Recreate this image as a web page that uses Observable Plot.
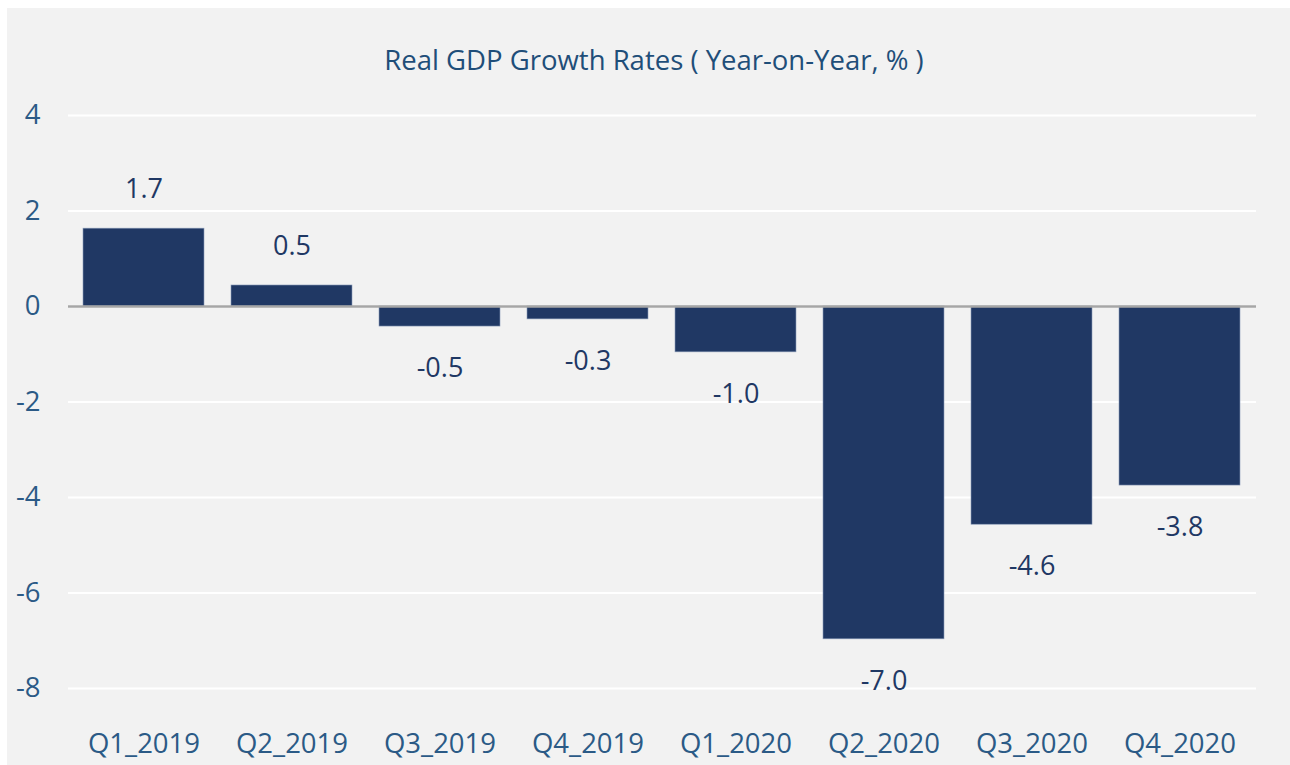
<!DOCTYPE html>
<html>
<head>
<meta charset="utf-8">
<script src="https://cdn.jsdelivr.net/npm/d3@7"></script>
<script src="https://cdn.jsdelivr.net/npm/@observablehq/plot@0.6"></script>
<style>
  html, body { margin: 0; padding: 0; background: #ffffff; width: 1290px; height: 765px; overflow: hidden; }
  #panel { position: absolute; left: 7px; top: 8px; width: 1283px; height: 757px; background: #f2f2f2; }
  #wrap { position: absolute; left: 0; top: 8px; width: 1290px; }
  #title { height: 80px; box-sizing: border-box; padding-top: 36px; padding-left: 18px; text-align: center;
           font-family: "Open Sans", sans-serif; font-size: 27.5px; line-height: 32px; color: #1f4e79; }
  svg { display: block; }
</style>
</head>
<body>
<div id="panel"></div>
<div id="wrap">
  <div id="title">Real GDP Growth Rates ( Year-on-Year, % )</div>
  <div id="chart"></div>
</div>
<script>
const quarters = ["Q1_2019","Q2_2019","Q3_2019","Q4_2019","Q1_2020","Q2_2020","Q3_2020","Q4_2020"];
const values = [1.63, 0.44, -0.42, -0.27, -0.96, -6.97, -4.57, -3.75];
const labels = ["1.7", "0.5", "-0.5", "-0.3", "-1.0", "-7.0", "-4.6", "-3.8"];
const yTicks = [4, 2, 0, -2, -4, -6, -8];

const data = quarters.map((q, i) => ({q, v: values[i], label: labels[i]}));

const chart = Plot.plot({
  width: 1290,
  height: 677,
  marginLeft: 68,
  marginRight: 34,
  marginTop: 27,
  marginBottom: 77,
  style: {background: "transparent", fontFamily: "'Open Sans', sans-serif", fontSize: "27px"},
  x: {domain: quarters, paddingInner: 0.18, paddingOuter: 0.09, label: null},
  y: {domain: [-8, 4], label: null},
  marks: [
    Plot.ruleY(yTicks, {stroke: "#ffffff", strokeWidth: 2}),
    Plot.barY(data, {x: "q", y: "v", fill: "#203864", stroke: "#8a9bb8", strokeWidth: 0.6}),
    Plot.ruleY([0], {stroke: "#a6a6a6", strokeWidth: 2.5}),
    Plot.text(data.filter(d => d.v >= 0), {x: "q", y: "v", text: "label", dy: -39, fill: "#1f3864", fontSize: 27}),
    Plot.text(data.filter(d => d.v < 0), {x: "q", y: "v", text: "label", dy: 42, fill: "#1f3864", fontSize: 27}),
    Plot.axisY({ticks: yTicks, tickSize: 0, tickPadding: 28, tickFormat: d => d < 0 ? "-" + Math.abs(d) : String(d), color: "#2b5a86", fontSize: 27.5}),
    Plot.axisX({tickSize: 0, tickPadding: 45, color: "#2b5a86", fontSize: 27.5})
  ]
});
document.getElementById("chart").appendChild(chart);
</script>
</body>
</html>
